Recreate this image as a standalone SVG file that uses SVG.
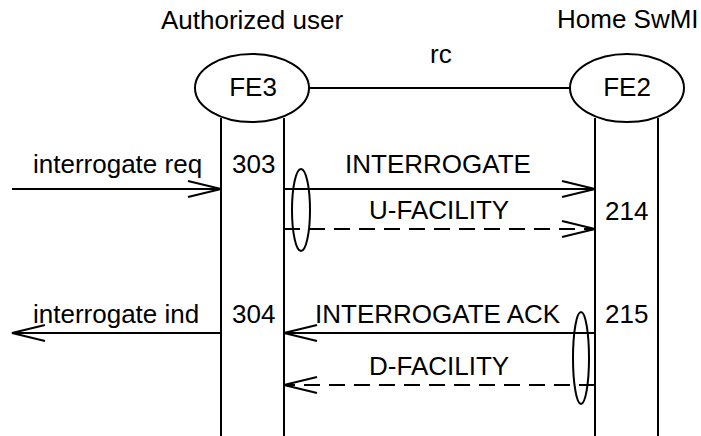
<svg xmlns="http://www.w3.org/2000/svg" width="701" height="436" viewBox="0 0 701 436">
<style>
text{font-family:"Liberation Sans",Arial,sans-serif;font-size:26px;fill:#000}
.ln{stroke:#000;stroke-width:2;fill:none}
.ds{stroke-dasharray:16 9}
.mid{text-anchor:middle}
</style>
<defs>
<marker id="ah" viewBox="-36 -10 38 20" refX="0" refY="0" markerWidth="38" markerHeight="20" markerUnits="userSpaceOnUse" orient="auto">
<path d="M-33,-8 L0,0 L-33,8" fill="none" stroke="#000" stroke-width="2" stroke-dasharray="none"/>
</marker>
</defs>
<rect width="701" height="436" fill="#fff"/>
<text x="252" y="29" class="mid">Authorized user</text>
<text x="557" y="28">Home SwMI</text>
<text x="430" y="63">rc</text>
<g id="fe3">
<line class="ln" x1="221" y1="118" x2="221" y2="436"/>
<line class="ln" x1="284" y1="118" x2="284" y2="436"/>
<ellipse class="ln" cx="252" cy="88" rx="57" ry="34" fill="#fff"/>
<text x="253" y="96" class="mid">FE3</text>
</g>
<g id="fe2">
<line class="ln" x1="595" y1="118" x2="595" y2="436"/>
<line class="ln" x1="658" y1="118" x2="658" y2="436"/>
<ellipse class="ln" cx="627" cy="88" rx="57" ry="34" fill="#fff"/>
<text x="627" y="96" class="mid">FE2</text>
</g>
<g id="connectors">
<line class="ln" x1="309" y1="88" x2="570" y2="88"/>
<line class="ln" x1="12" y1="189" x2="221" y2="189" marker-end="url(#ah)"/>
<line class="ln" x1="284" y1="189" x2="595" y2="189" marker-end="url(#ah)"/>
<line class="ln ds" x1="284" y1="229" x2="595" y2="229" marker-end="url(#ah)"/>
<ellipse class="ln" cx="301" cy="210" rx="9" ry="41"/>
<line class="ln" x1="221" y1="333" x2="12" y2="333" marker-end="url(#ah)"/>
<line class="ln" x1="595" y1="333" x2="284" y2="333" marker-end="url(#ah)"/>
<line class="ln ds" x1="595" y1="385" x2="284" y2="385" marker-end="url(#ah)"/>
<ellipse class="ln" cx="581" cy="358" rx="8" ry="46"/>
</g>
<text x="33" y="173">interrogate req</text>
<text x="232" y="173">303</text>
<text x="345" y="173">INTERROGATE</text>
<text x="369" y="219">U-FACILITY</text>
<text x="605" y="220">214</text>
<text x="33" y="323">interrogate ind</text>
<text x="232" y="323">304</text>
<text x="315" y="323">INTERROGATE ACK</text>
<text x="605" y="323">215</text>
<text x="369" y="375">D-FACILITY</text>
</svg>
